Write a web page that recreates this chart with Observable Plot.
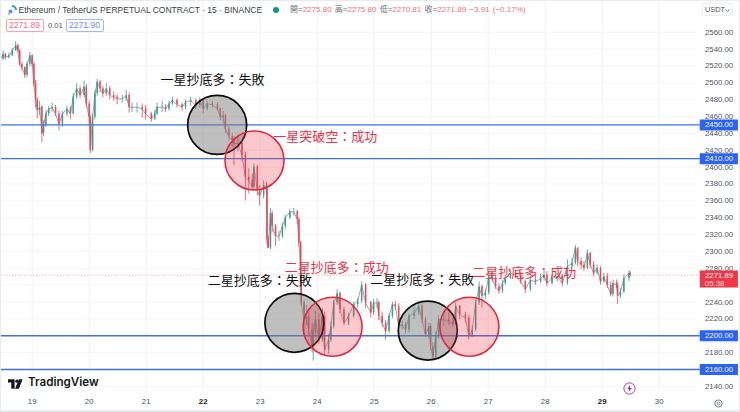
<!DOCTYPE html>
<html>
<head>
<meta charset="utf-8">
<script src="https://cdn.jsdelivr.net/npm/d3@7"></script>
<script src="https://cdn.jsdelivr.net/npm/@observablehq/plot@0.6"></script>
<style>
html,body{margin:0;padding:0;background:#fff;}
#wrap{position:relative;width:740px;height:412px;overflow:hidden;font-family:"Liberation Sans",sans-serif;}
#wrap svg.plot{display:block;}
.ov{position:absolute;white-space:nowrap;line-height:1;}
.box{position:absolute;border-radius:2px;background:#fff;font-size:8.6px;text-align:center;box-sizing:border-box;height:13px;line-height:11px;}
.g{color:#6a6d78}.r{color:#ef6f80}
</style>
</head>
<body>
<div id="wrap"></div>
<script>
const days = [
18.44,18.49,18.53,18.59,18.65,18.71,18.75,18.78,18.82,18.87,
18.91,18.96,19.00,19.03,19.06,19.09,19.13,19.17,19.20,19.24,
19.29,19.35,19.41,19.47,19.53,19.61,19.67,19.72,19.78,19.84,
19.91,19.95,20.00,20.02,20.06,20.10,20.14,20.19,20.24,20.30,
20.36,20.43,20.49,20.58,20.65,20.70,20.75,20.84,20.93,20.99,
21.09,21.15,21.19,21.28,21.34,21.40,21.46,21.54,21.63,21.69,
21.78,21.87,21.94,22.00,22.07,22.16,22.25,22.30,22.35,22.39,
22.45,22.51,22.54,22.61,22.68,22.74,22.80,22.86,22.89,22.95,
22.99,23.06,23.11,23.12,23.14,23.18,23.21,23.27,23.33,23.39,
23.44,23.52,23.59,23.65,23.68,23.71,23.72,23.77,23.81,23.85,
23.91,23.93,23.97,24.03,24.09,24.13,24.20,24.24,24.29,24.35,
24.40,24.47,24.55,24.64,24.71,24.78,24.85,24.94,24.99,25.05,
25.08,25.14,25.20,25.26,25.32,25.37,25.43,25.49,25.55,25.61,
25.70,25.78,25.84,25.90,25.96,25.99,26.03,26.08,26.13,26.22,
26.31,26.38,26.43,26.50,26.60,26.66,26.72,26.78,26.84,26.89,
26.95,27.01,27.07,27.13,27.19,27.25,27.30,27.39,27.48,27.57,
27.65,27.74,27.83,27.92,27.98,28.03,28.12,28.21,28.30,28.39,
28.47,28.53,28.57,28.63,28.68,28.74,28.79,28.85,28.91,28.97,
29.03,29.09,29.15,29.19,29.25,29.27,29.32,29.38,29.47,29.49];
const closes = [
2528,2534,2530,2532,2538,2544,2538,2522,2518,2509,
2522,2532,2522,2499,2479,2467,2471,2440,2449,2463,
2469,2471,2463,2451,2463,2469,2463,2483,2493,2485,
2495,2475,2459,2420,2459,2487,2501,2493,2487,2493,
2485,2483,2481,2481,2485,2471,2471,2471,2469,2463,
2457,2463,2471,2471,2469,2475,2479,2474,2471,2477,
2479,2473,2479,2469,2475,2474,2469,2459,2461,2445,
2436,2432,2428,2428,2414,2388,2384,2376,2400,2372,
2366,2378,2374,2314,2304,2345,2330,2318,2318,2330,
2340,2347,2347,2338,2310,2274,2239,2219,2223,2207,
2187,2203,2219,2195,2223,2183,2195,2211,2239,2250,
2231,2215,2223,2237,2241,2260,2239,2227,2239,2239,
2223,2215,2205,2223,2237,2235,2211,2213,2207,2223,
2227,2235,2219,2201,2211,2187,2175,2199,2219,2219,
2217,2213,2235,2225,2221,2199,2207,2239,2258,2247,
2251,2270,2268,2258,2253,2262,2268,2274,2272,2264,
2255,2266,2264,2268,2272,2262,2268,2270,2262,2282,
2286,2304,2288,2284,2280,2298,2284,2274,2280,2264,
2270,2260,2249,2262,2260,2247,2252,2268,2274,2272];
const highs = [
2531,2538,2535,2535,2541,2549,2546,2539,2524,2519,
2525,2536,2533,2524,2503,2482,2478,2473,2455,2467,
2472,2476,2473,2466,2466,2472,2472,2487,2499,2496,
2502,2498,2478,2462,2463,2490,2504,2503,2496,2499,
2496,2489,2486,2485,2491,2488,2476,2476,2475,2473,
2465,2467,2476,2478,2474,2478,2483,2481,2476,2480,
2483,2481,2482,2481,2478,2478,2476,2470,2466,2463,
2448,2440,2436,2438,2431,2418,2398,2392,2404,2402,
2378,2384,2382,2376,2318,2351,2348,2332,2324,2333,
2343,2350,2351,2349,2340,2312,2276,2242,2236,2232,
2215,2214,2229,2226,2232,2228,2202,2216,2242,2255,
2252,2234,2227,2240,2244,2264,2262,2241,2243,2244,
2241,2228,2218,2226,2240,2241,2238,2218,2216,2226,
2234,2241,2238,2222,2215,2214,2192,2204,2224,2229,
2227,2220,2239,2236,2228,2224,2212,2242,2264,2260,
2255,2276,2276,2272,2262,2266,2272,2278,2278,2276,
2266,2270,2272,2273,2277,2276,2272,2274,2273,2290,
2292,2307,2304,2292,2288,2302,2298,2288,2284,2282,
2274,2274,2264,2266,2266,2263,2256,2272,2277,2276];
const lows = [
2525,2526,2527,2528,2531,2537,2535,2520,2514,2505,
2506,2519,2519,2495,2470,2457,2461,2429,2436,2447,
2460,2465,2460,2443,2447,2460,2456,2462,2480,2481,
2482,2470,2450,2416,2418,2456,2484,2488,2482,2484,
2480,2478,2474,2476,2478,2464,2465,2464,2458,2456,
2453,2455,2461,2465,2465,2466,2473,2470,2466,2468,
2472,2468,2470,2463,2467,2470,2466,2455,2451,2440,
2431,2424,2402,2418,2406,2360,2368,2372,2372,2366,
2354,2362,2368,2308,2304,2302,2322,2306,2312,2315,
2326,2338,2342,2332,2305,2270,2235,2205,2212,2200,
2180,2170,2198,2190,2192,2178,2178,2192,2208,2236,
2226,2212,2212,2221,2233,2238,2232,2221,2224,2232,
2218,2210,2195,2202,2220,2230,2206,2207,2202,2203,
2219,2224,2214,2198,2196,2182,2170,2172,2196,2211,
2212,2210,2212,2219,2215,2195,2198,2205,2236,2233,
2243,2248,2263,2255,2249,2250,2260,2267,2268,2261,
2250,2252,2260,2262,2265,2258,2260,2264,2258,2260,
2280,2284,2282,2278,2276,2278,2280,2270,2272,2260,
2262,2256,2246,2246,2256,2237,2244,2250,2264,2270];

const dayTicks = [19,20,21,22,23,24,25,26,27,28,29,30];
const boldDays = [22,29];
const priceTicks = [2560,2540,2520,2500,2480,2460,2440,2420,2400,2380,2360,2340,2320,2300,2280,2260,2240,2220,2200,2180,2160,2140];
const labelledPriceTicks = [2560,2540,2520,2500,2480,2460,2440,2420,2400,2380,2360,2340,2320,2300,2280,2240,2220,2180,2140];
const levels = [2450,2410,2200,2160];
const lastPrice = 2271.89;
const countdown = "05:38";

const circleDays = [22.245,23.60,25.94];
const circlePrices = [2450,2215.3,2206.2];
const redCircleDays = [22.90,24.27,26.67];
const redCirclePrices = [2407.8,2210.6,2210.6];

const blackLabels = ["一星抄底多：失敗","二星抄底多：失敗","二星抄底多：失敗"];
const blackLabelDays = [21.25,22.08,24.93];
const blackLabelPrices = [2503.6,2265.5,2266.7];
const redLabels = ["一星突破空：成功","二星抄底多：成功","二星抄底多：成功"];
const redLabelDays = [23.23,23.43,26.72];
const redLabelPrices = [2436.3,2280.9,2275];

const candles = days.map((day,i)=>{
  const open = i ? closes[i-1] : closes[0];
  const close = closes[i];
  return {day,open,close,high:Math.max(highs[i],open,close),low:Math.min(lows[i],open,close),dir:close>=open?"up":"down"};
});

const xDomain = [18.444,30.672];
const yDomain = [2132.7,2597.6];
const badgeStart = 30.72, badgeEnd = 31.39;
const CJK = '"Noto Sans CJK TC"';
const tick = {tickSize:0,label:null,fontSize:7.8,color:"#50535e"};

const chart = Plot.plot({
  width:740,height:412,
  marginTop:0,marginLeft:0,marginRight:43,marginBottom:20,
  style:{fontFamily:'"Liberation Sans",sans-serif',background:"transparent",overflow:"visible"},
  x:{type:"linear",domain:xDomain},
  y:{type:"linear",domain:yDomain},
  color:{domain:["up","down"],range:["#3f9c8c","#e9495c"]},
  marks:[
    Plot.gridX(dayTicks,{stroke:"#eff1f4",strokeOpacity:1}),
    Plot.gridY(priceTicks,{stroke:"#f3f4f6",strokeOpacity:1}),
    Plot.ruleY([lastPrice],{x1:xDomain[0],x2:badgeStart,stroke:"#f7b7bd",strokeWidth:1,strokeDasharray:"1.5,1.5"}),
    Plot.line(candles,{x:"day",y:"close",stroke:"#7c7f80",strokeWidth:0.7}),
    Plot.ruleX(candles,{x:"day",y1:"low",y2:"high",stroke:"dir",strokeWidth:0.8}),
    Plot.ruleX(candles,{x:"day",y1:"open",y2:"close",stroke:"dir",strokeWidth:1.5}),
    Plot.ruleY(levels,{x1:xDomain[0],x2:badgeStart,stroke:"#3c72e2",strokeWidth:1.3}),
    Plot.dot(circleDays,{x:d=>d,y:(d,i)=>circlePrices[i],r:29.5,fill:"#808080",fillOpacity:0.5,stroke:"#0b0b0b",strokeWidth:1.7}),
    Plot.dot(redCircleDays,{x:d=>d,y:(d,i)=>redCirclePrices[i],r:29.5,fill:"#f23645",fillOpacity:0.27,stroke:"#e0283f",strokeWidth:1.6}),
    Plot.text(blackLabels,{x:(d,i)=>blackLabelDays[i],y:(d,i)=>blackLabelPrices[i],text:d=>d,textAnchor:"start",fill:"#111",fontSize:13,fontFamily:CJK}),
    Plot.text(redLabels,{x:(d,i)=>redLabelDays[i],y:(d,i)=>redLabelPrices[i],text:d=>d,textAnchor:"start",fill:"#e8344a",fontSize:13,fontFamily:CJK}),
    Plot.axisX({...tick,ticks:dayTicks.filter(d=>!boldDays.includes(d)),tickFormat:d=>String(d),tickPadding:6}),
    Plot.axisX({...tick,ticks:boldDays,tickFormat:d=>String(d),tickPadding:6,fontWeight:"bold",color:"#222"}),
    Plot.axisY({...tick,anchor:"right",ticks:labelledPriceTicks,tickFormat:d=>d.toFixed(2),tickPadding:7.5}),
    Plot.ruleY(levels,{x1:badgeStart,x2:badgeEnd,stroke:"#2962ff",strokeWidth:11}),
    Plot.axisY({...tick,anchor:"right",ticks:levels,tickFormat:d=>d.toFixed(2),tickPadding:7.5,color:"#fff"}),
    Plot.ruleY([2267.3],{x1:badgeStart,x2:badgeEnd,stroke:"#f23645",strokeWidth:17}),
    Plot.axisY({...tick,anchor:"right",ticks:[lastPrice],tickFormat:d=>d.toFixed(2),tickPadding:7.5,color:"#fff"}),
    Plot.text([countdown],{x:30.80,y:[lastPrice],dy:8.5,text:d=>d,textAnchor:"start",fill:"#fff",fontSize:7.8,fillOpacity:0.85})
  ]
});
const wrap = document.getElementById("wrap");
wrap.appendChild(chart);

const ov = document.createElement("div");
ov.innerHTML = `
<div style="position:absolute;inset:0;border:1px solid #e9ebee;border-bottom:2px solid #e9ebee;box-sizing:border-box;pointer-events:none"></div>
<svg class="ov" style="left:7px;top:4px" width="11" height="12" viewBox="0 0 11 12"><path d="M5 2a4 4 0 0 1 4 4" fill="none" stroke="#2ba89a" stroke-width="2"/><circle cx="3.5" cy="7.5" r="2" fill="#5b8ee6"/><circle cx="2" cy="10" r="1.2" fill="#a9c3ee"/></svg>
<div class="ov" style="left:18.5px;top:5.5px;font-size:8.5px;color:#3a3d47">Ethereum / TetherUS PERPETUAL CONTRACT · 15 · BINANCE</div>
<svg class="ov" style="left:272px;top:6px" width="8" height="8"><circle cx="4" cy="4" r="3" fill="#089981"/></svg>
<div class="ov" style="left:290px;top:5.5px;font-size:8px;font-family:'Liberation Sans','Noto Sans CJK TC';word-spacing:1px"><span class="g">開=</span><span class="r">2275.80</span> <span class="g">高=</span><span class="r">2275.80</span> <span class="g">低=</span><span class="r">2270.81</span> <span class="g">收=</span><span class="r">2271.89</span> <span class="r">−3.91 (−0.17%)</span></div>
<div class="box" style="left:5.5px;top:19px;width:38px;border:1px solid #f3a3ad;color:#ef6f80">2271.89</div>
<div class="ov" style="left:48px;top:22px;font-size:7.6px;color:#50535e">0.01</div>
<div class="box" style="left:65.5px;top:19px;width:38px;border:1px solid #a3b8f3;color:#6f8fe8">2271.90</div>
<div class="box" style="left:702px;top:3px;width:31px;border:1px solid #eceef0;font-size:7.4px;color:#50535e;text-align:left;padding-left:2px">USDT<svg style="position:absolute;right:2px;top:4.5px" width="5" height="3"><path d="M0.5 0.5 2.5 2.5 4.5 0.5" fill="none" stroke="#50535e" stroke-width="0.8"/></svg></div>
<svg class="ov" style="left:7.5px;top:378.5px" width="17" height="10" viewBox="0 0 36 20"><path d="M0 0h14v20H7V7H0z M23 0l-8 20h8l8-20z" fill="#131722"/><circle cx="19" cy="4" r="3.6" fill="#131722"/></svg>
<div class="ov" style="left:28px;top:377px;font-size:11.6px;font-weight:600;color:#131722;font-family:Inter,'Liberation Sans'">TradingView</div>
<svg class="ov" style="left:622.5px;top:381.5px" width="13" height="13" viewBox="0 0 13 13"><circle cx="6.5" cy="6.5" r="5.6" fill="#fff" stroke="#9c27b0" stroke-width="0.9"/><path d="M7.3 2.8 4.3 7h2l-.7 3.3L8.8 6h-2z" fill="#9c27b0"/></svg>
<svg class="ov" style="left:713.5px;top:398.5px" width="9" height="9" viewBox="0 0 9 9"><circle cx="4.5" cy="4.5" r="3.6" fill="none" stroke="#6a6d78" stroke-width="0.9"/><circle cx="4.5" cy="4.5" r="1.4" fill="none" stroke="#6a6d78" stroke-width="0.8"/></svg>`;
wrap.appendChild(ov);
</script>
</body>
</html>
